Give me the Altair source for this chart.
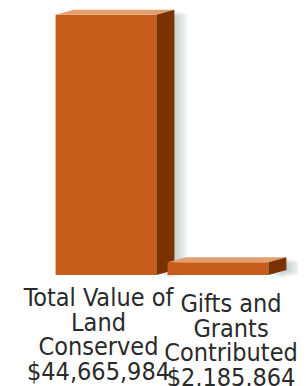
import altair as alt
import pandas as pd

# ---- data ----
label_lines = [["Total Value of", "Land", "Conserved"], ["Gifts and", "Grants", "Contributed"]]
values = [44665984, 2185864]

# ---- style / geometry constants ----
W, H = 224, 265
YMAX = 45_500_000
STEP = W / 2            # px per slot
PAD = 0.05              # slot fraction each side of front face
DX = 18 / STEP          # depth in x (slot units)
DY = YMAX * 5 / H       # depth in y (value units)
FRONT, TOP, SIDE = "#C65C1A", "#E39E6E", "#7A3300"
NSHADOW = 9

xs = alt.Scale(domain=[0, 2], nice=False, zero=False)
ys = alt.Scale(domain=[0, YMAX], nice=False)

front_rows, top_rows, side_rows, shadow_rows, text_rows = [], [], [], [], []
for i, v in enumerate(values):
    l, r = i + PAD, i + 1 - PAD
    front_rows.append(dict(bar=i, x=l, x2=r, y=v, y2=0))
    for x, y, y2 in [(l, v, v), (l + DX, v + DY, v), (r, v + DY, v), (r + DX, v + DY, v + DY)]:
        top_rows.append(dict(bar=i, x=x, y=y, y2=y2))
    for x, y, y2 in [(r, v, 0), (r + DX, v + DY, DY)]:
        side_rows.append(dict(bar=i, x=x, y=y, y2=y2))
    for k in range(1, NSHADOW + 1):
        s = k * 1.5 / STEP
        sy = k * 0.4 * YMAX / H
        for x, y, y2 in [(r + s, v - sy, -sy), (r + DX + s, v + DY - sy, DY - sy)]:
            shadow_rows.append(dict(bar=i, k=k, x=x, y=y, y2=y2))
    text_rows.append(dict(bar=i, xc=i + 0.5, y=0,
                          lines=label_lines[i] + ["${:,}".format(v)]))

front_df = pd.DataFrame(front_rows)
top_df = pd.DataFrame(top_rows)
side_df = pd.DataFrame(side_rows)
shadow_df = pd.DataFrame(shadow_rows)
text_df = pd.DataFrame(text_rows)

layers = []
# shadows
layers.append(
    alt.Chart(shadow_df).mark_area(color="#7d848c", opacity=0.05, clip=False).encode(
        x=alt.X("x:Q", scale=xs, axis=None),
        y=alt.Y("y:Q", scale=ys, axis=None),
        y2="y2:Q",
        detail=["bar:N", "k:N"],
    )
)
for i in range(len(values)):
    layers.append(
        alt.Chart(front_df).transform_filter(alt.datum.bar == i).mark_rect(color=FRONT).encode(
            x=alt.X("x:Q", scale=xs, axis=None), x2="x2:Q",
            y=alt.Y("y:Q", scale=ys, axis=None), y2="y2:Q",
        )
    )
    layers.append(
        alt.Chart(top_df).transform_filter(alt.datum.bar == i).mark_area(color=TOP, clip=False).encode(
            x=alt.X("x:Q", scale=xs, axis=None),
            y=alt.Y("y:Q", scale=ys, axis=None), y2="y2:Q",
        )
    )
    layers.append(
        alt.Chart(side_df).transform_filter(alt.datum.bar == i).mark_area(color=SIDE, clip=False).encode(
            x=alt.X("x:Q", scale=xs, axis=None),
            y=alt.Y("y:Q", scale=ys, axis=None), y2="y2:Q",
        )
    )

text_dx = [-7.5, 13]
text_dy = [31, 37]
for i in range(len(values)):
    layers.append(
        alt.Chart(text_df).transform_filter(alt.datum.bar == i).mark_text(
            font="'DejaVu Sans Condensed', 'Liberation Sans Narrow', sans-serif",
            fontSize=25, lineHeight=24.5,
            color="#2a2a2a", align="center", baseline="alphabetic",
            dx=text_dx[i], dy=text_dy[i],
        ).encode(
            x=alt.X("xc:Q", scale=xs, axis=None),
            y=alt.Y("y:Q", scale=ys, axis=None),
            text="lines",
        )
    )

chart = alt.layer(*layers).properties(
    width=W, height=H,
    autosize=alt.AutoSizeParams(type="none"),
    padding={"left": 42, "top": 2, "right": 24, "bottom": 111},
    background="white",
).configure_view(stroke=None)

chart.save("out.html", embed_options={"renderer": "svg", "actions": False})
